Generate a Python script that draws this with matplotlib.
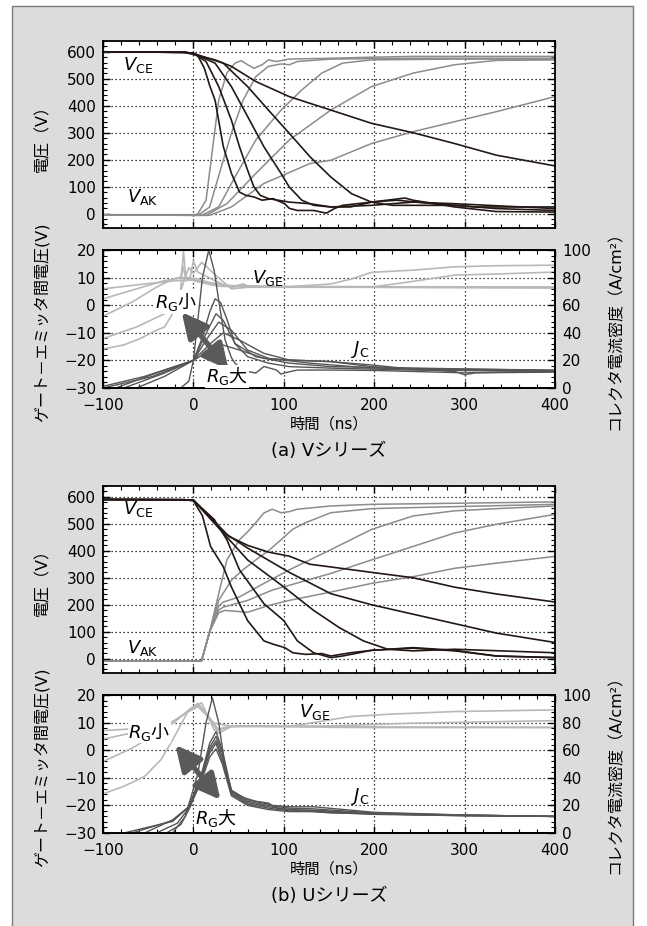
import matplotlib
matplotlib.use('Agg')
import matplotlib.pyplot as plt
from matplotlib.patches import Rectangle
from matplotlib.ticker import MultipleLocator

plt.rcParams['font.family'] = ['DejaVu Sans', 'Noto Sans CJK JP']
plt.rcParams['mathtext.fontset'] = 'dejavusans'

# ---------------- (a) V series ----------------
# collector-emitter voltage V_CE (V), time in ns
vs_vce = [
    ([-100, -10, 0, 5, 12, 18, 24, 33, 42, 51, 58, 67, 76, 88, 101, 106, 115, 133, 147, 156, 165, 197, 234, 243, 289, 335, 400],
     [600, 598, 595, 585, 540, 475, 420, 250, 150, 80, 68, 62, 50, 56, 37, 20, 12, 12, 2, 19, 31, 43, 58, 50, 25, 8, 6]),
    ([-100, -10, 0, 14, 28, 42, 51, 60, 67, 74, 83, 106, 129, 152, 174, 197, 225, 266, 312, 400],
     [600, 598, 594, 564, 471, 347, 248, 161, 99, 68, 56, 43, 37, 25, 25, 43, 50, 37, 25, 25]),
    ([-100, -10, 0, 24, 42, 60, 78, 97, 106, 120, 133, 152, 197, 243, 289, 400],
     [600, 598, 594, 558, 471, 360, 248, 149, 99, 50, 31, 25, 31, 43, 37, 19]),
    ([-100, -10, 0, 33, 60, 83, 106, 129, 152, 175, 197, 220, 243, 289, 335, 400],
     [600, 598, 594, 558, 471, 384, 298, 211, 136, 74, 43, 31, 31, 31, 19, 12]),
    ([-100, -10, 0, 24, 42, 69, 106, 152, 197, 243, 289, 335, 400],
     [600, 598, 590, 570, 546, 490, 434, 384, 335, 300, 260, 217, 177]),
]
# diode voltage V_AK (V)
vs_vak = [
    ([-100, 0, 5, 14, 21, 28, 37, 46, 53, 60, 67, 76, 83, 92, 106, 152, 197, 243, 400],
     [-5, -5, 0, 50, 236, 421, 521, 558, 567, 552, 539, 552, 570, 564, 573, 576, 580, 583, 583]),
    ([-100, 5, 18, 33, 42, 55, 69, 83, 97, 106, 115, 152, 243, 400],
     [-5, -6, 25, 198, 298, 421, 508, 546, 555, 552, 564, 573, 576, 576]),
    ([-100, 9, 28, 46, 69, 97, 120, 142, 165, 197, 289, 400],
     [-5, -6, 25, 136, 273, 384, 459, 521, 558, 570, 573, 573]),
    ([-100, 14, 37, 69, 106, 152, 197, 243, 289, 335, 400],
     [-5, -6, 37, 149, 273, 384, 471, 521, 552, 568, 570]),
    ([-100, 18, 42, 78, 129, 152, 197, 243, 289, 335, 400],
     [-5, -6, 25, 112, 186, 198, 260, 304, 341, 378, 434]),
]
# gate-emitter voltage V_GE (V)
vs_vge = [
    ([-100, -54, -18, 0, 23, 42, 106, 197, 400],
     [5.9, 7.7, 8.9, 9.1, 7.9, 6.7, 6.7, 6.5, 6.2]),
    ([-100, -63, -32, -9, 5, 23, 42, 106, 152, 175, 197, 243, 289, 335, 400],
     [2.3, 5.9, 8.9, 10.1, 9.5, 7.7, 7.1, 6.7, 7.7, 9.5, 11.9, 12.7, 13.9, 14.3, 14.5]),
    ([-100, -68, -41, -23, -14, -12, -8, 0, 5, 18, 30, 42, 60, 106, 200, 240, 289, 335, 400],
     [-4, 1.1, 6.5, 9.5, 10.1, 14.3, 9.5, 8.9, 8.5, 7.5, 6.8, 6.8, 6.8, 6.7, 6.7, 8.5, 10.9, 11.3, 12.0]),
    ([-100, -63, -32, -18, -14, -11, -8, -4, 0, 5, 14, 23, 33, 42, 55, 60, 80, 200, 400],
     [-12.1, -7.9, -3.1, 0.5, 5.3, 19.6, 8.9, 9.5, 16, 12, 10.5, 9, 7.5, 6.5, 7.7, 6.9, 6.7, 6.7, 6.6]),
    ([-100, -77, -59, -41, -32, -23, -14, -9, -5, 0, 9, 14, 23, 42, 60, 400],
     [-15.9, -14.4, -12.1, -9.1, -7.9, -3.1, 5.3, 10.1, 13.7, 11.5, 15.5, 14.2, 11.3, 5.9, 6.5, 6.5]),
]
# collector current density J_C (A/cm2)
vs_jc = [
    ([-100, -14, -5, 0, 5, 10, 17, 23, 30, 35, 42, 46, 51, 60, 69, 78, 92, 97, 101, 115, 152, 200, 300, 400],
     [0, 0, 5, 20, 50, 80, 100, 85, 55, 35, 22, 18, 15, 12, 10.8, 15.6, 13, 10, 11, 13, 13, 12.7, 11, 12]),
    ([-100, -63, -32, 0, 9, 18, 24, 30, 37, 46, 60, 83, 106, 152, 243, 400],
     [0, 0, 8.4, 20, 35, 55, 64.6, 62, 50, 32, 22.7, 18, 15.5, 14.4, 13, 12]),
    ([-100, -77, -32, 0, 14, 25, 33, 46, 69, 106, 152, 400],
     [0, 0, 10.8, 20, 39.5, 53.8, 49, 32.3, 22.7, 18, 15.5, 12.7]),
    ([-100, -86, -41, 0, 14, 28, 42, 60, 83, 129, 197, 400],
     [0, 0, 10.8, 20, 34.7, 47.8, 41.9, 27.5, 21.5, 18, 14.4, 13]),
    ([-100, -45, 0, 19, 33, 51, 78, 106, 152, 197, 243, 400],
     [0, 8.4, 20, 32.3, 40, 34.7, 25.1, 20.3, 19.1, 15.5, 13.6, 12]),
    ([-100, -54, 0, 19, 33, 51, 78, 106, 152, 197, 243, 289, 300, 312, 400],
     [1.2, 8.4, 20, 27.5, 31.1, 27.5, 21.5, 20.3, 19.1, 16.7, 13.6, 12, 9.6, 11, 11.5]),
]

# ---------------- (b) U series ----------------
us_vce = [
    ([-100, -10, 0, 10, 19, 33, 42, 60, 78, 88, 101, 110, 124, 142, 152, 174, 197, 243, 289, 335, 400],
     [590, 589, 585, 530, 416, 341, 266, 141, 66, 54, 41, 22, 16, 19, 10, 22, 31, 39, 29, 10, 4]),
    ([-100, -10, 0, 23, 37, 51, 78, 100, 115, 133, 152, 165, 197, 243, 289, 335, 400],
     [590, 589, 587, 516, 441, 329, 204, 141, 66, 22, 4, 10, 31, 41, 31, 10, 4]),
    ([-100, -10, 0, 33, 60, 100, 133, 161, 188, 215, 243, 289, 400],
     [590, 589, 587, 466, 366, 266, 179, 116, 66, 35, 29, 35, 22]),
    ([-100, -10, 0, 37, 60, 83, 106, 152, 197, 243, 289, 335, 400],
     [590, 589, 588, 460, 410, 365, 320, 241, 200, 165, 130, 95, 60]),
    ([-100, -10, 0, 39, 60, 83, 106, 129, 152, 197, 243, 289, 335, 400],
     [590, 589, 588, 454, 420, 395, 380, 350, 340, 320, 300, 265, 240, 210]),
]
us_vak = [
    ([-100, 9, 18, 28, 37, 51, 60, 69, 78, 87, 97, 106, 115, 152, 197, 400],
     [-8, -8, 100, 241, 366, 441, 470, 504, 540, 554, 541, 545, 554, 566, 572, 581]),
    ([-100, 9, 18, 28, 42, 55, 69, 83, 97, 110, 124, 152, 197, 243, 400],
     [-8, -8, 100, 216, 291, 330, 366, 400, 441, 480, 504, 541, 556, 560, 572]),
    ([-100, 9, 18, 28, 33, 51, 78, 106, 152, 197, 243, 289, 335, 400],
     [-8, -8, 100, 195, 210, 229, 279, 329, 404, 479, 529, 548, 556, 566]),
    ([-100, 9, 18, 28, 33, 60, 87, 106, 152, 197, 243, 289, 335, 400],
     [-8, -8, 100, 180, 191, 216, 254, 272, 316, 366, 416, 466, 498, 535]),
    ([-100, 9, 18, 28, 35, 60, 83, 106, 152, 197, 243, 289, 335, 400],
     [-8, -8, 100, 170, 179, 172, 197, 216, 247, 279, 304, 335, 354, 379]),
]
us_vge = [
    ([-100, -54, -23, -5, 5, 14, 28, 42, 60, 106, 152, 197, 400],
     [7.1, 8, 9.8, 14.6, 17, 13.4, 6.1, 8.6, 8.8, 8.6, 8.3, 8.2, 8.2]),
    ([-100, -54, -23, 0, 9, 23, 42, 106, 174, 220, 289, 400],
     [4, 7.3, 10.4, 15.2, 17.2, 7.3, 8.8, 8.6, 12.2, 13.1, 14, 14.6]),
    ([-100, -68, -41, -23, -9, 5, 23, 42, 152, 243, 400],
     [-4.1, 0.7, 6.1, 9.8, 13.4, 15.8, 9.8, 8.6, 8.8, 9.8, 10.7]),
    ([-100, -77, -54, -36, -23, -11, -5, 5, 14, 28, 42, 400],
     [-15.8, -13.1, -9.5, -3.5, 3.7, 11, 14.6, 16.4, 13.4, 7.3, 8.6, 8.3]),
]
us_jc = [
    ([-100, -23, -9, 5, 14, 21, 28, 35, 42, 51, 69, 83, 92, 106, 152, 243, 400],
     [0, 0, 12, 43, 80, 98, 80, 48, 31, 26.5, 23, 21.7, 18, 16.9, 14.5, 13.3, 12]),
    ([-100, -77, -23, -5, 9, 18, 25, 32, 42, 60, 83, 87, 106, 133, 200, 300, 400],
     [0, 0, 8.4, 19, 43, 65, 73.5, 60, 31, 24, 21, 20, 19, 19, 15, 13, 12]),
    ([-100, -68, -23, -5, 9, 18, 25, 32, 42, 60, 83, 106, 133, 200, 300, 400],
     [0, 0, 9, 19, 42, 62, 70, 58, 30, 23, 20, 18, 17.5, 14.5, 13, 12]),
    ([-100, -54, -23, -5, 9, 18, 25, 32, 42, 60, 83, 106, 133, 200, 300, 400],
     [0, 0, 9.5, 19, 41, 60, 67, 55, 29, 22, 19, 17, 16.5, 14, 13, 12]),
    ([-100, -41, -18, -5, 9, 18, 25, 32, 42, 60, 83, 106, 133, 200, 300, 400],
     [0, 0, 7, 18, 40, 58, 65, 52, 28, 21, 18, 16, 16, 14, 12.5, 12]),
    ([-100, -30, -14, -5, 9, 18, 25, 32, 42, 60, 83, 106, 133, 200, 300, 400],
     [0, 0, 6, 17, 38, 55, 61, 50, 27, 20, 17, 15.5, 15.5, 13.5, 12.5, 12]),
]

C_BLACK = '#231815'
C_VAK = '#8c8c8c'
C_VGE = '#b8b8b8'
C_JC = '#555555'
C_ARROW = '#5a5a5a'
JP = 'Noto Sans CJK JP'
TICK_FS = 11

W, H = 647, 926
fig = plt.figure(figsize=(W / 100, H / 100), dpi=100)
fig.patch.set_facecolor('white')
fig.patches.append(Rectangle((12 / W, -0.01), 621 / W, 1.01 - 6 / H, transform=fig.transFigure,
                             facecolor='#dcdcdc', edgecolor='#7a7a7a', lw=1.0, zorder=-5))


def px_axes(top, bottom):
    return fig.add_axes([103 / W, 1 - bottom / H, 452 / W, (bottom - top) / H])


def style(ax, xmaj, xmin, ymaj, ymin):
    ax.set_xlim(-100, 400)
    ax.xaxis.set_major_locator(MultipleLocator(xmaj))
    ax.xaxis.set_minor_locator(MultipleLocator(xmin))
    ax.yaxis.set_major_locator(MultipleLocator(ymaj))
    ax.yaxis.set_minor_locator(MultipleLocator(ymin))
    ax.tick_params(which='both', direction='in', top=True, right=True, labelsize=TICK_FS)
    ax.tick_params(axis='y', pad=5)
    ax.tick_params(axis='x', pad=7)
    ax.tick_params(which='major', length=5, width=1)
    ax.tick_params(which='minor', length=3, width=0.8)
    ax.grid(True, which='major', linestyle=(0, (1, 2.2)), color='black', lw=0.9)
    ax.set_axisbelow(True)
    for s in ax.spines.values():
        s.set_linewidth(1.3)


def draw_half(dy, vce, vak, vge, jc, rg_small, rg_big, arrow, vge_pos, jc_pos, vce_pos, vak_pos, caption):
    # voltage panel
    ax1 = px_axes(41 + dy, 228 + dy)
    style(ax1, 100, 20, 100, 20)
    ax1.set_ylim(-53, 640)
    ax1.tick_params(labelbottom=False)
    for t, v in vak:
        ax1.plot(t, v, color=C_VAK, lw=1.1)
    for t, v in vce:
        ax1.plot(t, v, color=C_BLACK, lw=1.2)
    ax1.text(vce_pos[0], vce_pos[1], r'$V_{\mathrm{CE}}$', fontsize=13, va='center')
    ax1.text(vak_pos[0], vak_pos[1], r'$V_{\mathrm{AK}}$', fontsize=13, va='center')
    fig.text(43 / W, 1 - (134 + dy) / H, '電圧（V）', rotation=90, ha='center', va='center', fontsize=11.5)

    # gate voltage / current density panel
    ax2 = px_axes(250 + dy, 388 + dy)
    style(ax2, 100, 20, 10, 2)
    ax2.set_ylim(-30, 20)
    ax2.tick_params(which='both', right=False)
    for t, v in vge:
        ax2.plot(t, v, color=C_VGE, lw=1.2)
    ax3 = ax2.twinx()
    ax3.set_ylim(0, 100)
    ax3.yaxis.set_major_locator(MultipleLocator(20))
    ax3.yaxis.set_minor_locator(MultipleLocator(4))
    ax3.tick_params(which='both', direction='in', labelsize=TICK_FS, pad=5)
    ax3.tick_params(which='major', length=5, width=1)
    ax3.tick_params(which='minor', length=3, width=0.8)
    for s in ax3.spines.values():
        s.set_linewidth(1.3)
    for t, j in jc:
        ax3.plot(t, j, color=C_JC, lw=1.0)

    # arrow and labels live on the J axis (J = 2 * (V + 30))
    ax3.annotate('', xy=(arrow[0][0], (arrow[0][1] + 30) * 2), xytext=(arrow[1][0], (arrow[1][1] + 30) * 2),
                 arrowprops=dict(arrowstyle='<|-|>,head_length=0.9,head_width=0.45', lw=3.8,
                                 color=C_ARROW, mutation_scale=17, shrinkA=0, shrinkB=0))
    ax3.text(rg_small[0], (rg_small[1] + 30) * 2, r'$R_{\mathrm{G}}$小', fontsize=13, va='center', family=JP,
             bbox=dict(facecolor='white', edgecolor='none', pad=0.5))
    ax3.text(rg_big[0], (rg_big[1] + 30) * 2, r'$R_{\mathrm{G}}$大', fontsize=13, va='center', family=JP,
             bbox=dict(facecolor='white', edgecolor='none', pad=0.5))
    ax3.text(vge_pos[0], (vge_pos[1] + 30) * 2, r'$V_{\mathrm{GE}}$', fontsize=13, va='center')
    ax3.text(jc_pos[0], (jc_pos[1] + 30) * 2, r'$J_{\mathrm{C}}$', fontsize=13, va='center')

    fig.text(42 / W, 1 - (322 + dy) / H, 'ゲート－エミッタ間電圧(V)', rotation=90, ha='center', va='center', fontsize=11.5)
    fig.text(615 / W, 1 - (326 + dy) / H, 'コレクタ電流密度（A/cm²）', rotation=90, ha='center', va='center', fontsize=11.5)
    fig.text(329 / W, 1 - (424 + dy) / H, '時間（ns）', ha='center', va='center', fontsize=11)
    fig.text(329 / W, 1 - (451 + dy) / H, caption, ha='center', va='center', fontsize=13)


draw_half(0, vs_vce, vs_vak, vs_vge, vs_jc,
          rg_small=(-43, 1.1), rg_big=(14, -25.8), arrow=((-13, -2.5), (39, -23.4)),
          vge_pos=(65, 9.7), jc_pos=(174, -16), vce_pos=(-78, 552), vak_pos=(-74, 62),
          caption='(a) Vシリーズ')
draw_half(445, us_vce, us_vak, us_vge, us_jc,
          rg_small=(-72, 6.7), rg_big=(2, -24.6), arrow=((-20, 1.9), (30, -18)),
          vge_pos=(117, 14), jc_pos=(174, -16.7), vce_pos=(-78, 554), vak_pos=(-74, 41),
          caption='(b) Uシリーズ')

plt.savefig('out.png', dpi=100)
